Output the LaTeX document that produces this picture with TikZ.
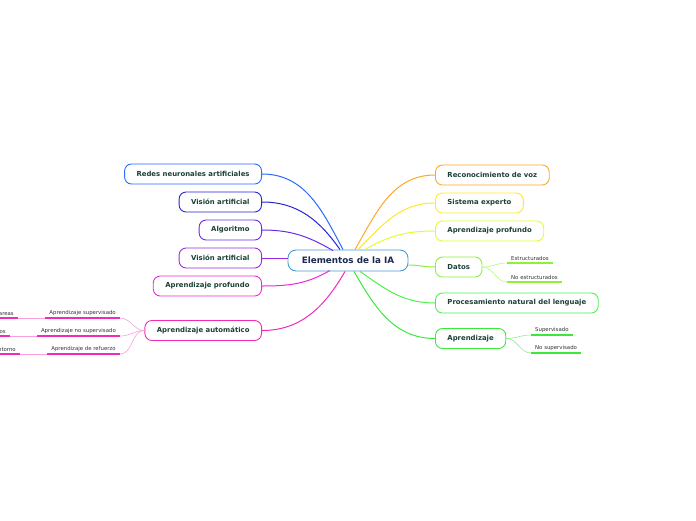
\documentclass[tikz,border=0pt]{standalone}
\usepackage{fontspec}
\setmainfont{DejaVu Sans}
\usetikzlibrary{positioning, calc}
\definecolor{ttext}{HTML}{1B4038}
\definecolor{ctext}{HTML}{1A2A50}
\definecolor{cblue}{HTML}{4A9AD8}
\definecolor{cred}{HTML}{2A6AFF}
\definecolor{cvis}{HTML}{2424D8}
\definecolor{calg}{HTML}{6A2AF0}
\definecolor{cvisb}{HTML}{9A2AE0}
\definecolor{cprof}{HTML}{E82AE0}
\definecolor{caut}{HTML}{F22AB8}
\definecolor{creco}{HTML}{FFA726}
\definecolor{csist}{HTML}{FFE82A}
\definecolor{cprofr}{HTML}{E0FF2A}
\definecolor{cdat}{HTML}{8CF03C}
\definecolor{cproc}{HTML}{4CF04C}
\definecolor{capr}{HTML}{3CE83C}

\begin{document}
\begin{tikzpicture}[
  x=1pt, y=-1pt,
  topic/.style={rectangle, rounded corners=7pt, draw=#1, line width=0.9pt,
                fill=white, minimum height=20pt, inner xsep=12pt, inner ysep=0pt,
                font=\fontsize{6.9}{8}\selectfont\bfseries, text=ttext},
  leaf/.style={inner xsep=4pt, inner ysep=2.5pt, font=\fontsize{5.4}{6}\selectfont,
               text=black!80},
  conn/.style={draw=#1, line width=1pt},
  uline/.style={draw=#1, line width=1.6pt},
]
  \useasboundingbox (0,0) rectangle (696,520);
  \clip (0,0) rectangle (696,520);

  % central topic
  \node[rectangle, rounded corners=8pt, draw=cblue, line width=0.9pt, fill=white,
        minimum height=21pt, minimum width=120pt,
        font=\fontsize{8.8}{10}\selectfont\bfseries, text=ctext] (ia) at (348,260.5)
        {Elementos de la IA};

  % left branches
  \node[topic=cred,  anchor=east] (redes) at (262,174) {Redes neuronales artificiales};
  \node[topic=cvis,  anchor=east] (vis)   at (262,202) {Visión artificial};
  \node[topic=calg,  anchor=east] (alg)   at (262,230) {Algoritmo};
  \node[topic=cvisb, anchor=east] (visb)  at (262,258) {Visión artificial};
  \node[topic=cprof, anchor=east] (profl) at (262,286) {Aprendizaje profundo};
  \node[topic=caut,  anchor=east] (aut)   at (262,330.5) {Aprendizaje automático};

  % right branches
  \node[topic=creco,  anchor=west] (reco) at (435,175) {Reconocimiento de voz};
  \node[topic=csist,  anchor=west] (sist) at (435,203) {Sistema experto};
  \node[topic=cprofr, anchor=west] (profr) at (435,231) {Aprendizaje profundo};
  \node[topic=cdat,   anchor=west] (dat)  at (435,267) {Datos};
  \node[topic=cproc,  anchor=west] (proc) at (435,303) {Procesamiento natural del lenguaje};
  \node[topic=capr,   anchor=west] (apr)  at (435,338.5) {Aprendizaje};

  % connectors to the centre
  \draw[conn=cred]  (redes.east) to[out=0,in=118] ($(ia.north)+(-5,0)$);
  \draw[conn=cvis]  (vis.east)   to[out=0,in=125] ($(ia.north)+(-8,0)$);
  \draw[conn=calg]  (alg.east)   to[out=0,in=150] ($(ia.north)+(-15,1)$);
  \draw[conn=cvisb] (visb.east)  -- ($(ia.west)+(0,-2.5)$);
  \draw[conn=cprof] (profl.east) to[out=0,in=-150] ($(ia.south)+(-18,-1)$);
  \draw[conn=caut]  (aut.east)   to[out=0,in=-120] ($(ia.south)+(-3,0)$);
  \draw[conn=creco] (reco.west)  to[out=180,in=60] ($(ia.north)+(7,0)$);
  \draw[conn=csist] (sist.west)  to[out=180,in=45] ($(ia.north)+(10,0)$);
  \draw[conn=cprofr] (profr.west) to[out=180,in=30] ($(ia.north)+(17,0)$);
  \draw[conn=cdat]  (dat.west)   to[out=180,in=0] ($(ia.east)+(0,4.5)$);
  \draw[conn=cproc] (proc.west)  to[out=180,in=-35] ($(ia.south)+(12,0)$);
  \draw[conn=capr]  (apr.west)   to[out=180,in=-60] ($(ia.south)+(6,0)$);

  % Datos
  \node[leaf, anchor=south west] (estr)  at (507,263) {Estructurados};
  \node[leaf, anchor=south west] (noestr) at (507,282) {No estructurados};
  \draw[uline=cdat] (estr.south west) -- (estr.south east);
  \draw[uline=cdat] (noestr.south west) -- (noestr.south east);
  \draw[conn=cdat!60, line width=0.6pt] (dat.east) to[out=0,in=180] (estr.south west);
  \draw[conn=cdat!60, line width=0.6pt] (dat.east) to[out=0,in=180] (noestr.south west);

  % Aprendizaje
  \node[leaf, anchor=south west] (sup)   at (531,335) {Supervisado};
  \node[leaf, anchor=south west] (nosup) at (531,353) {No supervisado};
  \draw[uline=capr] (sup.south west) -- (sup.south east);
  \draw[uline=capr] (nosup.south west) -- (nosup.south east);
  \draw[conn=capr!60, line width=0.6pt] (apr.east) to[out=0,in=180] (sup.south west);
  \draw[conn=capr!60, line width=0.6pt] (apr.east) to[out=0,in=180] (nosup.south west);

  % Aprendizaje automatico
  \node[leaf, anchor=south east] (asup)   at (120,318) {Aprendizaje supervisado};
  \node[leaf, anchor=south east] (anosup) at (120,336) {Aprendizaje no supervisado};
  \node[leaf, anchor=south east] (aref)   at (120,354) {Aprendizaje de refuerzo};
  \foreach \n in {asup,anosup,aref}
    \draw[uline=caut] (\n.south west) -- (\n.south east);
  \draw[conn=caut!45, line width=0.6pt] (aut.west) to[out=180,in=0] (asup.south east);
  \draw[conn=caut!45, line width=0.6pt] (aut.west) to[out=180,in=0] (anosup.south east);
  \draw[conn=caut!45, line width=0.6pt] (aut.west) to[out=180,in=0] (aref.south east);

  % third level, cut by the left edge
  \node[leaf, anchor=south east] (tar) at (18,318) {tareas};
  \node[leaf, anchor=south east] (dts) at (10,336) {datos};
  \node[leaf, anchor=south east] (ent) at (20,354) {entorno};
  \foreach \n in {tar,dts,ent}
    \draw[uline=caut] (\n.south west) -- (\n.south east);
  \draw[conn=caut!45, line width=0.6pt] (asup.south west) -- (tar.south east);
  \draw[conn=caut!45, line width=0.6pt] (anosup.south west) -- (dts.south east);
  \draw[conn=caut!45, line width=0.6pt] (aref.south west) -- (ent.south east);
\end{tikzpicture}
\end{document}
